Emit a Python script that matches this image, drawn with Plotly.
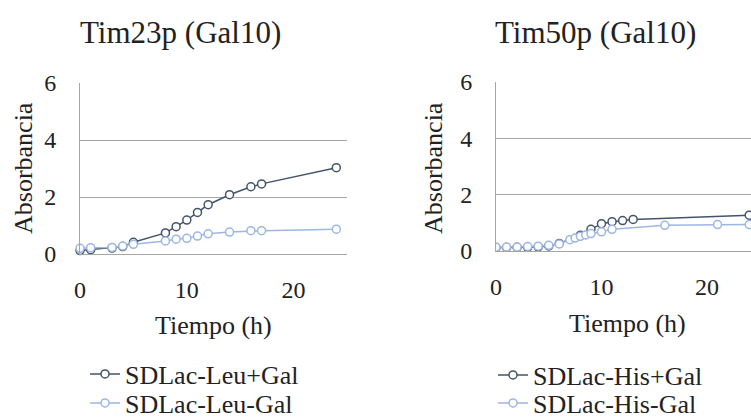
import plotly.graph_objects as go

# ---- data ----
t_leu_plus = [0, 1, 3, 4, 5, 8, 9, 10, 11, 12, 14, 16, 17, 24]
leu_plus = [0.12, 0.15, 0.21, 0.26, 0.41, 0.74, 0.96, 1.19, 1.46, 1.73, 2.08, 2.36, 2.46, 3.03]
t_leu_minus = [0, 1, 3, 4, 5, 8, 9, 10, 11, 12, 14, 16, 17, 24]
leu_minus = [0.20, 0.22, 0.23, 0.28, 0.34, 0.46, 0.52, 0.55, 0.63, 0.71, 0.77, 0.82, 0.82, 0.87]

t_his_plus = [0, 1, 2, 3, 4, 5, 6, 8, 9, 10, 11, 12, 13, 24]
his_plus = [0.12, 0.12, 0.13, 0.13, 0.15, 0.18, 0.27, 0.56, 0.77, 0.97, 1.04, 1.08, 1.12, 1.27]
t_his_minus = [0, 1, 2, 3, 4, 5, 6, 7, 7.5, 8, 8.5, 9, 10, 11, 16, 21, 24]
his_minus = [0.13, 0.14, 0.14, 0.16, 0.17, 0.20, 0.25, 0.40, 0.46, 0.52, 0.57, 0.62, 0.68, 0.77, 0.91, 0.94, 0.94]

titles = ["Tim23p (Gal10)", "Tim50p (Gal10)"]
names_left = ["SDLac-Leu+Gal", "SDLac-Leu-Gal"]
names_right = ["SDLac-His+Gal", "SDLac-His-Gal"]
x_title = "Tiempo (h)"
y_title = "Absorbancia"
y_ticks = [0, 2, 4, 6]
x_ticks = [0, 10, 20]

DARK = "#44546A"
LIGHT = "#9DB6E3"
FONT = "Liberation Serif"
W, H = 751, 419


def px_x(p):
    return p / W


def px_y(p):
    return 1 - p / H


fig = go.Figure()


def add(x, y, name, color, xa, ya, legend):
    fig.add_trace(go.Scatter(
        x=x, y=y, name=name, mode="lines+markers", showlegend=True,
        line=dict(color=color, width=1.5),
        marker=dict(symbol="circle", size=8, color="white",
                    line=dict(color=color, width=1.5)),
        xaxis=xa, yaxis=ya, legend=legend, cliponaxis=(xa != "x")))


add(t_leu_plus, leu_plus, names_left[0], DARK, "x", "y", "legend")
add(t_leu_minus, leu_minus, names_left[1], LIGHT, "x", "y", "legend2")
add(t_his_plus, his_plus, names_right[0], DARK, "x2", "y2", "legend3")
add(t_his_minus, his_minus, names_right[1], LIGHT, "x2", "y2", "legend4")

tickfont = dict(family=FONT, size=24, color="#222")
axis_common = dict(showline=True, linecolor="#A6A6A6", linewidth=1, ticks="",
                   tickfont=tickfont, zeroline=False, automargin=False)


def leg(xp, yp):
    return dict(x=px_x(xp), y=px_y(yp), xanchor="left", yanchor="middle",
                font=dict(family=FONT, size=26, color="#222"),
                bgcolor="rgba(0,0,0,0)", borderwidth=0)


fig.update_layout(
    width=W, height=H,
    margin=dict(l=0, r=0, t=0, b=0, autoexpand=False),
    paper_bgcolor="white", plot_bgcolor="white",
    showlegend=True,
    font=dict(family=FONT, color="#222"),
    xaxis=dict(domain=[px_x(80), px_x(347)], range=[0, 25], tickvals=x_ticks,
               showgrid=False, anchor="y", ticklabelstandoff=14, **axis_common),
    yaxis=dict(domain=[px_y(254), px_y(83)], range=[0, 6], tickvals=y_ticks,
               showgrid=True, gridcolor="#A6A6A6", gridwidth=1, anchor="x",
               ticklabelstandoff=18, **axis_common),
    xaxis2=dict(domain=[px_x(496), 1.0], range=[0, 24.17], tickvals=x_ticks,
                showgrid=False, anchor="y2", ticklabelstandoff=14, **axis_common),
    yaxis2=dict(domain=[px_y(251), px_y(82)], range=[0, 6], tickvals=y_ticks,
                showgrid=True, gridcolor="#A6A6A6", gridwidth=1, anchor="x2",
                ticklabelstandoff=18, **axis_common),
    legend=leg(85, 374),
    legend2=leg(85, 403),
    legend3=leg(493, 375),
    legend4=leg(493, 403),
)

ann = [
    dict(text=titles[0], x=px_x(180), y=px_y(33), size=31, angle=0),
    dict(text=titles[1], x=px_x(595), y=px_y(32), size=31, angle=0),
    dict(text=x_title, x=px_x(213), y=px_y(325), size=26, angle=0),
    dict(text=x_title, x=px_x(627), y=px_y(323), size=26, angle=0),
    dict(text=y_title, x=px_x(23), y=px_y(168), size=26, angle=-90),
    dict(text=y_title, x=px_x(433), y=px_y(168), size=26, angle=-90),
]
for a in ann:
    fig.add_annotation(text=a["text"], x=a["x"], y=a["y"], xref="paper", yref="paper",
                       xanchor="center", yanchor="middle", showarrow=False,
                       textangle=a["angle"],
                       font=dict(family=FONT, size=a["size"], color="#222"))

fig.write_html("out.html")
